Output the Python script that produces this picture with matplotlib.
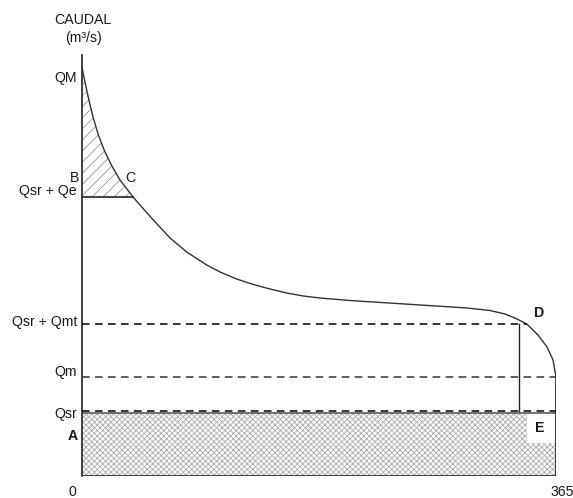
import matplotlib
matplotlib.use("Agg")
import matplotlib.pyplot as plt

plt.rcParams['font.family'] = ['Liberation Sans', 'DejaVu Sans']
plt.rcParams['hatch.linewidth'] = 0.6

# curva de caudales clasificados (dia, caudal)
dias = [0, 1.0, 2.3, 3.6, 5.5, 8.5, 12.6, 17.7, 23.0, 29.3, 39.3, 44.7,
        54.9, 67.8, 80.6, 96.0, 106.3, 119.1, 131.9, 144.8, 157.6, 170.4,
        183.3, 206.4, 219.5, 244.9, 270.3, 296.5, 314.2, 325.7, 334.2,
        342.5, 351.1, 358.1, 362.7, 365]
caudal = [409, 402, 394, 386, 375, 359, 341, 324, 310, 296, 279, 271,
          256, 238, 224, 211, 204, 197, 191.5, 187, 183, 180,
          178, 175.5, 174.4, 172.3, 170.2, 168, 165.5, 162, 157.5,
          152, 141, 129, 116, 99]

# niveles
QM = 398
Q_sr_qe = 279
Q_sr_qmt = 152
Q_m = 99
Q_sr = 65
Q_base = 63
dia_C = 39.3
dia_D = 342.5
dia_corte = 336.5
ymax = 421

fig = plt.figure(figsize=(5.73, 4.98), dpi=100)
ax = fig.add_axes([82 / 573, 22 / 498, 474 / 573, 421 / 498])
ax.set_xlim(0, 365)
ax.set_ylim(0, ymax)
ax.axis('off')

# area rayada superior (B-C)
px = [d for d in dias if d <= dia_C]
py = caudal[:len(px)]
ax.fill([0] + px, [Q_sr_qe] + py, facecolor='none', edgecolor='#999999',
        hatch='///', linewidth=0)

# area de caudal de servicio (cuadriculado)
ax.fill_between([0, 365], 0, Q_base, facecolor='white', edgecolor='#aaaaaa',
                hatch='xxxxxx', linewidth=0)
ax.fill_between([dia_D, 365], Q_base - 30, Q_base, facecolor='white',
                edgecolor='none', linewidth=0)
ax.plot([0, 365], [Q_base, Q_base], color='#666666', lw=1.3)
ax.plot([0, 365], [0, 0], color='#444444', lw=2.2, solid_capstyle='butt')

# curva
ax.plot(dias, caudal, color='#333333', lw=1.0, solid_joinstyle='round')

# ejes
ax.plot([0, 0], [0, ymax], color='#222222', lw=1.2, clip_on=False)
ax.plot([365, 365], [0, Q_m], color='#222222', lw=1.2)

# lineas
ax.plot([0, dia_C], [Q_sr_qe, Q_sr_qe], color='#222222', lw=1.2)
ax.plot([0, dia_D], [Q_sr_qmt, Q_sr_qmt], color='black', lw=1.1, ls=(0, (5, 3.5)))
ax.plot([0, 365], [Q_m, Q_m], color='#333333', lw=1.1, ls=(0, (5, 3.5)))
ax.plot([0, 365], [Q_sr, Q_sr], color='black', lw=1.1, ls=(0, (5, 3.5)))
ax.plot([dia_corte, dia_corte], [Q_sr, Q_sr_qmt], color='#222222', lw=1.0)

# textos
fs = 10.2
kw = dict(fontsize=fs, color='#1a1a1a', clip_on=False)
ax.text(0.8, 456, 'CAUDAL', ha='center', va='center', **kw)
ax.text(0.8, 438, '(m³/s)', ha='center', va='center', **kw)
ax.text(-3.9, QM, 'QM', ha='right', va='center', **kw)
ax.text(-5.4, 298, 'B', ha='center', va='center', **kw)
ax.text(-3.9, 285, 'Qsr + Qe', ha='right', va='center', **kw)
ax.text(37, 298, 'C', ha='center', va='center', **kw)
ax.text(-3.9, 154, 'Qsr + Qmt', ha='right', va='center', **kw)
ax.text(-3.9, 104, 'Qm', ha='right', va='center', **kw)
ax.text(-3.9, 62, 'Qsr', ha='right', va='center', **kw)
ax.text(-7, 40, 'A', ha='center', va='center', fontweight='bold', **kw)
ax.text(-7.7, -16, '0', ha='center', va='center', **kw)
ax.text(369.6, -16, '365', ha='center', va='center', **kw)
ax.text(352, 163, 'D', ha='center', va='center', fontweight='bold', **kw)
ax.text(352.3, 48, 'E', ha='center', va='center', fontweight='bold', **kw)

fig.savefig('out.png', dpi=100)
